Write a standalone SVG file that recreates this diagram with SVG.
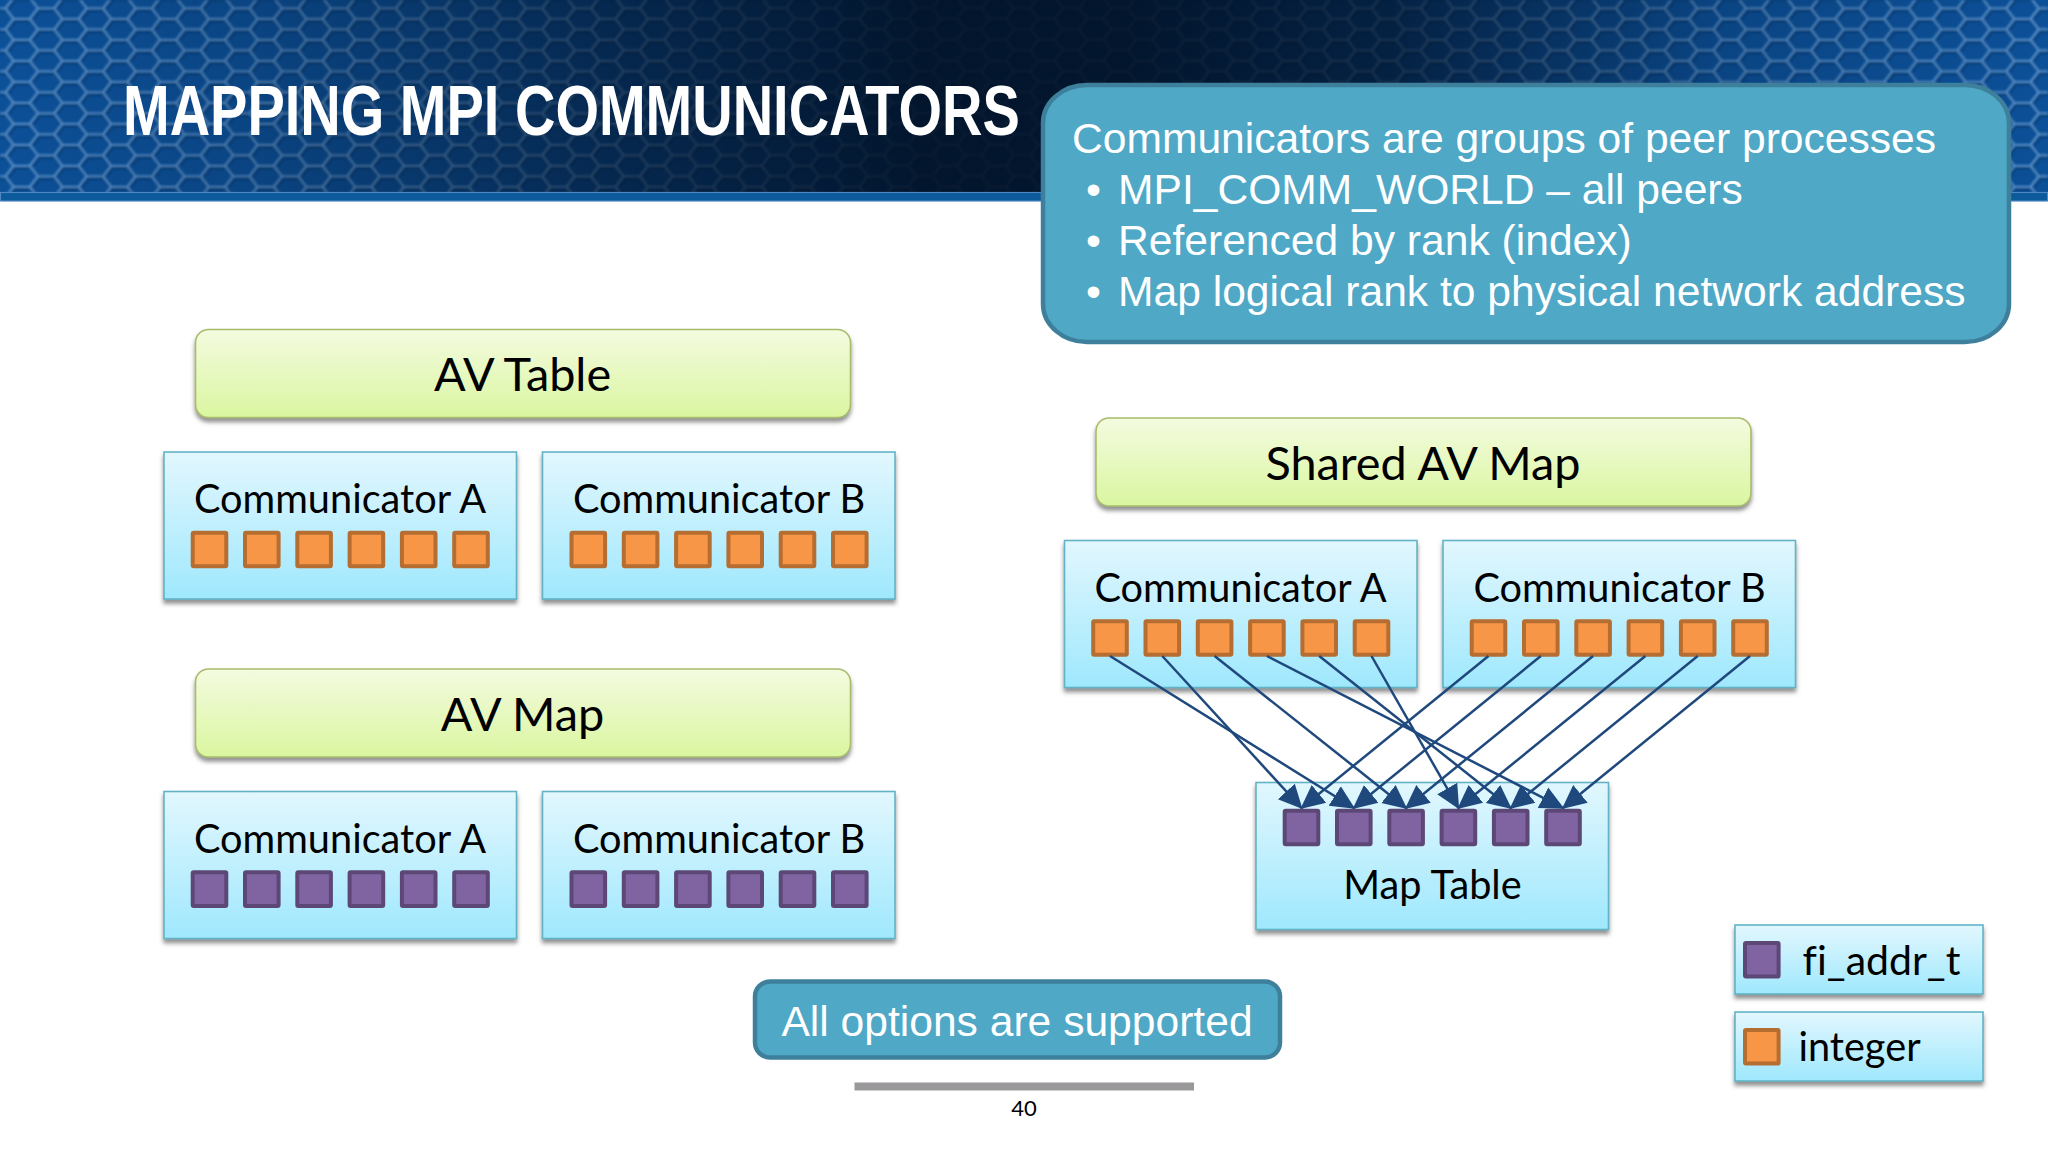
<svg xmlns="http://www.w3.org/2000/svg" width="2048" height="1152" viewBox="0 0 2048 1152">
<style>
.box{fill:url(#gBox);stroke:#62b3c6;stroke-width:1.6;filter:url(#sh)}
.bar{fill:url(#gBar);stroke:#a9bc6c;stroke-width:1.6;filter:url(#sh)}
.call{fill:#4ea8c6;stroke:#3e809c;stroke-width:4.5}
.cal{font-family:Lato,"Liberation Sans",sans-serif;fill:#000;text-anchor:middle;font-variant-ligatures:none}
.c{font-size:39.7px}
.h{font-size:46.8px}
.ar{font-family:"Liberation Sans",Arial,sans-serif;fill:#fff;font-size:42.6px}
.conn{stroke:#1f497d;stroke-width:2.5;fill:none;marker-end:url(#ah)}
.so{fill:#f79646;stroke:#b66d31;stroke-width:4}
.sp{fill:#8064a2;stroke:#5c4776;stroke-width:4}
</style>
<defs>
<linearGradient id="gBox" x1="0" y1="0" x2="0" y2="1"><stop offset="0" stop-color="#e2f7fe"/><stop offset="1" stop-color="#9fe8fd"/></linearGradient>
<linearGradient id="gBar" x1="0" y1="0" x2="0" y2="1"><stop offset="0" stop-color="#f4fbe0"/><stop offset="1" stop-color="#daf6a0"/></linearGradient>
<linearGradient id="gDark" x1="0" y1="0" x2="1" y2="0">
<stop offset="0" stop-color="#010f22" stop-opacity="0"/>
<stop offset="0.12" stop-color="#010f22" stop-opacity="0.18"/>
<stop offset="0.3" stop-color="#010f22" stop-opacity="0.62"/>
<stop offset="0.45" stop-color="#010f22" stop-opacity="0.9"/>
<stop offset="0.55" stop-color="#010f22" stop-opacity="0.9"/>
<stop offset="0.68" stop-color="#010f22" stop-opacity="0.72"/>
<stop offset="0.84" stop-color="#010f22" stop-opacity="0.18"/>
<stop offset="1" stop-color="#010f22" stop-opacity="0"/>
</linearGradient>
<pattern id="hex" width="48.8" height="21" patternUnits="userSpaceOnUse" patternTransform="translate(5.4 -2.2)">
<path d="M9.4 1.8H25.7L33.8 12.3H50.1M33.8 12.3L25.7 22.8M9.4 1.8L1.3 12.3L9.4 22.8H25.7" fill="none" stroke="#06305f" stroke-width="3.4" opacity="0.55"/>
<path d="M8.1 0H24.4L32.5 10.5H48.8M32.5 10.5L24.4 21M8.1 0L0 10.5L8.1 21H24.4" fill="none" stroke="#5892cc" stroke-width="2.2"/>
</pattern>
<filter id="soft" x="0" y="0" width="100%" height="100%"><feGaussianBlur stdDeviation="0.8"/></filter>
<filter id="sh" x="-5%" y="-10%" width="110%" height="130%"><feDropShadow dx="0" dy="4" stdDeviation="2.2" flood-color="#555" flood-opacity="0.65"/></filter>
<marker id="ah" markerUnits="userSpaceOnUse" markerWidth="26" markerHeight="26" refX="22.5" refY="13" orient="auto"><path d="M0 1.5L24 13L0 24.5Z" fill="#1f497d"/></marker>
<rect id="o" class="so" x="2" y="2" width="33.6" height="33.6" rx="1"/>
<rect id="p" class="sp" x="2" y="2" width="33.6" height="33.6" rx="1"/>
<g id="row6o"><use href="#o" x="0"/><use href="#o" x="52.3"/><use href="#o" x="104.6"/><use href="#o" x="156.9"/><use href="#o" x="209.2"/><use href="#o" x="261.5"/></g>
<g id="row6p"><use href="#p" x="0"/><use href="#p" x="52.3"/><use href="#p" x="104.6"/><use href="#p" x="156.9"/><use href="#p" x="209.2"/><use href="#p" x="261.5"/></g>
</defs>

<rect width="2048" height="1152" fill="#fff"/>

<g id="header">
<rect width="2048" height="193" fill="#0c5098"/>
<rect width="2048" height="193" fill="url(#hex)" filter="url(#soft)"/>
<rect width="2048" height="193" fill="url(#gDark)"/>
<rect x="0.5" y="192.5" width="2047" height="8.5" fill="#0b5a9b" stroke="#4d86c0" stroke-width="1.2"/>
<text transform="translate(123 135) scale(0.8 1)" font-family="'Liberation Sans',Arial,sans-serif" font-weight="700" font-size="70" fill="#fff">MAPPING MPI COMMUNICATORS</text>
</g>

<g id="callout">
<rect class="call" x="1043" y="85" width="966" height="257" rx="44" ry="38"/>
<text class="ar" x="1072" y="153">Communicators are groups of peer processes</text>
<text class="ar" x="1086" y="204">•</text><text class="ar" x="1118" y="204">MPI_COMM_WORLD – all peers</text>
<text class="ar" x="1086" y="255">•</text><text class="ar" x="1118" y="255">Referenced by rank (index)</text>
<text class="ar" x="1086" y="306">•</text><text class="ar" x="1118" y="306">Map logical rank to physical network address</text>
</g>

<g id="av-table"><rect class="bar" x="195.5" y="329.5" width="655" height="88" rx="13"/><text class="cal h" x="522.5" y="391">AV Table</text></g>
<g id="t-comm-a"><rect class="box" x="164" y="452" width="352.5" height="147"/><text class="cal c" x="340" y="513">Communicator A</text><use href="#row6o" x="190.7" y="530.7"/></g>
<g id="t-comm-b"><rect class="box" x="542.5" y="452" width="352.5" height="147"/><text class="cal c" x="719" y="513">Communicator B</text><use href="#row6o" x="569.5" y="530.7"/></g>

<g id="av-map"><rect class="bar" x="195.5" y="669" width="655" height="88" rx="13"/><text class="cal h" x="522.5" y="730.5">AV Map</text></g>
<g id="m-comm-a"><rect class="box" x="164" y="791.5" width="352.5" height="147"/><text class="cal c" x="340" y="852.5">Communicator A</text><use href="#row6p" x="190.7" y="870.3"/></g>
<g id="m-comm-b"><rect class="box" x="542.5" y="791.5" width="352.5" height="147"/><text class="cal c" x="719" y="852.5">Communicator B</text><use href="#row6p" x="569.5" y="870.3"/></g>

<g id="shared-av-map"><rect class="bar" x="1096" y="418" width="655" height="88" rx="13"/><text class="cal h" x="1423" y="479.5">Shared AV Map</text></g>
<g id="s-comm-a"><rect class="box" x="1064.5" y="540.5" width="352.5" height="147"/><text class="cal c" x="1240.5" y="601.5">Communicator A</text><use href="#row6o" x="1091.2" y="619.2"/></g>
<g id="s-comm-b"><rect class="box" x="1443" y="540.5" width="352.5" height="147"/><text class="cal c" x="1619.5" y="601.5">Communicator B</text><use href="#row6o" x="1469.7" y="619.2"/></g>
<g id="map-table"><rect class="box" x="1256" y="782.5" width="352.5" height="147"/><text class="cal c" x="1432.5" y="898.5">Map Table</text><use href="#row6p" x="1282.7" y="808.7"/></g>

<g id="legend-fi-addr"><rect class="box" x="1735" y="925" width="248" height="69"/><use href="#p" x="1743" y="941"/><text class="cal" font-size="41" x="1881.5" y="974.5">fi_addr_t</text></g>
<g id="legend-integer"><rect class="box" x="1735" y="1012" width="248" height="69"/><use href="#o" x="1743" y="1028"/><text class="cal c" x="1859.5" y="1061">integer</text></g>

<g id="all-options"><rect class="call" x="755" y="981.5" width="525" height="76" rx="15"/><text class="ar" x="1017" y="1036" text-anchor="middle">All options are supported</text></g>

<g id="footer"><rect x="854.5" y="1082.5" width="339.5" height="8" fill="#9a989b"/><text class="cal" x="1024" y="1116" font-size="22">40</text></g>

<g id="connectors">
<path class="conn" d="M1110 656L1353.8 808"/>
<path class="conn" d="M1162.3 656L1301.5 808"/>
<path class="conn" d="M1214.6 656L1406.1 808"/>
<path class="conn" d="M1266.9 656L1563 808"/>
<path class="conn" d="M1319.2 656L1510.7 808"/>
<path class="conn" d="M1371.5 656L1458.4 808"/>
<path class="conn" d="M1488.5 656L1301.5 808"/>
<path class="conn" d="M1540.8 656L1353.8 808"/>
<path class="conn" d="M1593.1 656L1406.1 808"/>
<path class="conn" d="M1645.4 656L1458.4 808"/>
<path class="conn" d="M1697.7 656L1510.7 808"/>
<path class="conn" d="M1750 656L1563 808"/>
</g>
</svg>
